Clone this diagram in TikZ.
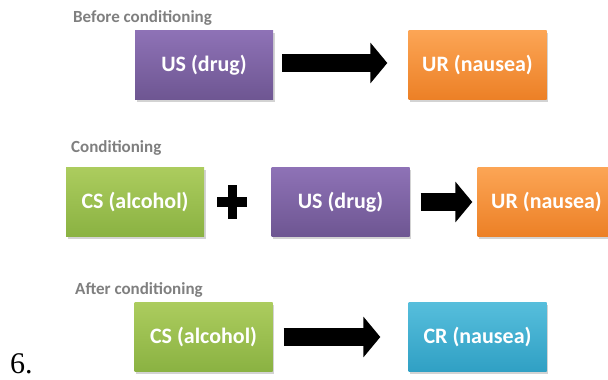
\documentclass[tikz,border=0pt]{standalone}
\usepackage{fontspec}
\setmainfont{Carlito}
\newfontfamily\numfont{Liberation Serif}
\usepackage{tikz}
\usetikzlibrary{positioning,arrows.meta,calc,shadows}

\definecolor{purpletop}{RGB}{142,114,182}
\definecolor{purplebot}{RGB}{110,86,146}
\definecolor{orangetop}{RGB}{252,165,85}
\definecolor{orangebot}{RGB}{236,128,38}
\definecolor{greentop}{RGB}{172,204,94}
\definecolor{greenbot}{RGB}{138,178,66}
\definecolor{cyantop}{RGB}{86,190,220}
\definecolor{cyanbot}{RGB}{48,160,196}
\definecolor{labelgray}{RGB}{127,127,127}

\begin{document}
\begin{tikzpicture}[
  x=1pt, y=-1pt,
  box/.style={minimum width=138pt, minimum height=69pt, inner sep=0pt,
    text=white, font=\fontsize{22}{26}\selectfont\bfseries,
    drop shadow={opacity=0.35, shadow xshift=1.5pt, shadow yshift=-2pt}},
  usbox/.style={box, top color=purpletop, bottom color=purplebot},
  urbox/.style={box, top color=orangetop, bottom color=orangebot},
  csbox/.style={box, top color=greentop, bottom color=greenbot},
  crbox/.style={box, top color=cyantop, bottom color=cyanbot},
  lbl/.style={anchor=west, inner sep=0pt, text=labelgray,
    font=\fontsize{17}{20}\selectfont\bfseries},
  bigarrow/.style={line width=18pt, -{Triangle[width=40pt, length=17pt]}, black}
]
\useasboundingbox (0,0) rectangle (608,380);

% before conditioning
\node[lbl] (t1) at (73,18) {Before conditioning};
\node[usbox] (us1) at (204,65) {US (drug)};
\node[urbox] (ur1) at (477.5,65) {UR (nausea)};
\draw[bigarrow] ([xshift=9pt,yshift=2pt]us1.east) -- ([xshift=-21pt,yshift=2pt]ur1.west);

% conditioning
\node[lbl] (t2) at (71,148) {Conditioning};
\node[csbox] (cs2) at (135,202) {CS (alcohol)};
\node[usbox] (us2) at (340.5,202) {US (drug)};
\node[urbox] (ur2) at (546.5,202) {UR (nausea)};
\coordinate (plus) at ($(cs2.east)!0.42!(us2.west)$);
\fill (plus) +(-15,-5) rectangle +(15,5);
\fill (plus) +(-4.5,-17) rectangle +(4.5,17);
\draw[bigarrow] ([xshift=11pt]us2.east) -- ([xshift=-5pt]ur2.west);

% after conditioning
\node[lbl] (t3) at (75,290) {After conditioning};
\node[csbox] (cs3) at (203.5,337) {CS (alcohol)};
\node[crbox] (cr3) at (477.5,337) {CR (nausea)};
\draw[bigarrow] ([xshift=11pt]cs3.east) -- ([xshift=-28pt]cr3.west);

\node[anchor=base west, inner sep=0pt, font=\numfont\fontsize{30}{33}\selectfont] (num) at (10,373) {6.};
\end{tikzpicture}
\end{document}
